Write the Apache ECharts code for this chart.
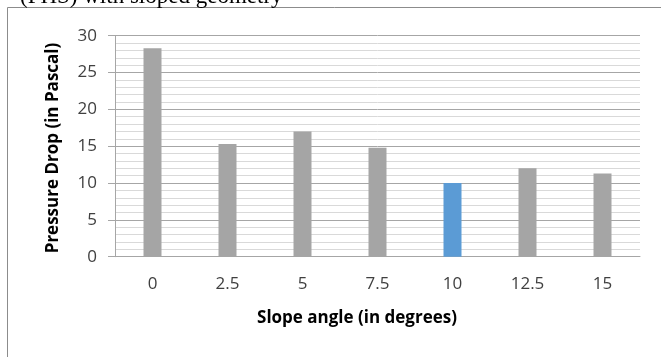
<!DOCTYPE html>
<html>
<head>
<meta charset="utf-8">
<script src="https://cdn.jsdelivr.net/npm/echarts@6/dist/echarts.min.js"></script>
<style>
  html, body { margin: 0; padding: 0; background: #fff; }
  #chart { width: 661px; height: 357px; }
</style>
</head>
<body>
<div id="chart"></div>
<script>
// Slope angle (degrees) on the x axis
const slopeAngles = ['0', '2.5', '5', '7.5', '10', '12.5', '15'];
// Pressure drop (Pa) for each slope angle
const pressureDrop = [28.3, 15.3, 17.0, 14.8, 10.0, 12.0, 11.3];
// Y axis ticks
const yTicks = [0, 5, 10, 15, 20, 25, 30];
// Best-performing slope, drawn in blue
const highlightAngle = '10';

const captionText = '(FHS) with sloped geometry';
const xTitle = 'Slope angle (in degrees)';
const yTitle = 'Pressure Drop (in Pascal)';

const chart = echarts.init(document.getElementById('chart'), null, { renderer: 'canvas' });

const uiFont = '"Open Sans", "Liberation Sans", sans-serif';

chart.setOption({
  backgroundColor: '#ffffff',
  animation: false,
  grid: { left: 115, right: 21, top: 35.7, bottom: 100.3, containLabel: false },
  xAxis: {
    type: 'category',
    data: slopeAngles,
    axisLine: { show: true, lineStyle: { color: '#a6a6a6', width: 1 } },
    axisTick: { show: false },
    axisLabel: { color: '#404040', fontSize: 17, fontFamily: uiFont, margin: 19 },
    splitLine: { show: false }
  },
  yAxis: {
    type: 'value',
    min: yTicks[0],
    max: yTicks[yTicks.length - 1],
    interval: yTicks[1] - yTicks[0],
    axisLine: { show: true, lineStyle: { color: '#a6a6a6', width: 1 } },
    axisTick: { show: true, inside: false, length: 7, lineStyle: { color: '#a6a6a6' } },
    axisLabel: { color: '#404040', fontSize: 17, fontFamily: uiFont, margin: 18 },
    splitLine: { show: true, lineStyle: { color: '#a6a6a6', width: 1 } },
    minorTick: { show: false, splitNumber: 5 },
    minorSplitLine: { show: true, lineStyle: { color: '#d9d9d9', width: 1 } }
  },
  series: [{
    type: 'bar',
    barWidth: 18,
    data: pressureDrop.map((v, i) => ({
      value: v,
      itemStyle: { color: slopeAngles[i] === highlightAngle ? '#5b9bd5' : '#a5a5a5' }
    })),
    z: 3
  }],
  graphic: [
    // caption line above the chart frame (partly cut off at the top edge)
    {
      type: 'text',
      left: 20, top: -15,
      style: { text: captionText, font: '23px "Liberation Serif", "Times New Roman", serif', fill: '#000' },
      z: 10
    },
    // chart frame: top and left edges
    {
      type: 'line',
      shape: { x1: 7.5, y1: 7.5, x2: 661, y2: 7.5 },
      style: { stroke: '#8c8c8c', lineWidth: 1 }
    },
    {
      type: 'line',
      shape: { x1: 7.5, y1: 7.5, x2: 7.5, y2: 357 },
      style: { stroke: '#8c8c8c', lineWidth: 1 }
    },
    // axis titles
    {
      type: 'text',
      x: 357, y: 318,
      style: {
        text: xTitle, fill: '#000', align: 'center', verticalAlign: 'middle',
        font: 'bold 17px "Open Sans", "Liberation Sans", sans-serif'
      }
    },
    {
      type: 'text',
      x: 53, y: 148,
      rotation: Math.PI / 2,
      style: {
        text: yTitle, fill: '#000', align: 'center', verticalAlign: 'middle',
        font: 'bold 17px "Open Sans", "Liberation Sans", sans-serif'
      }
    }
  ]
});
</script>
</body>
</html>
